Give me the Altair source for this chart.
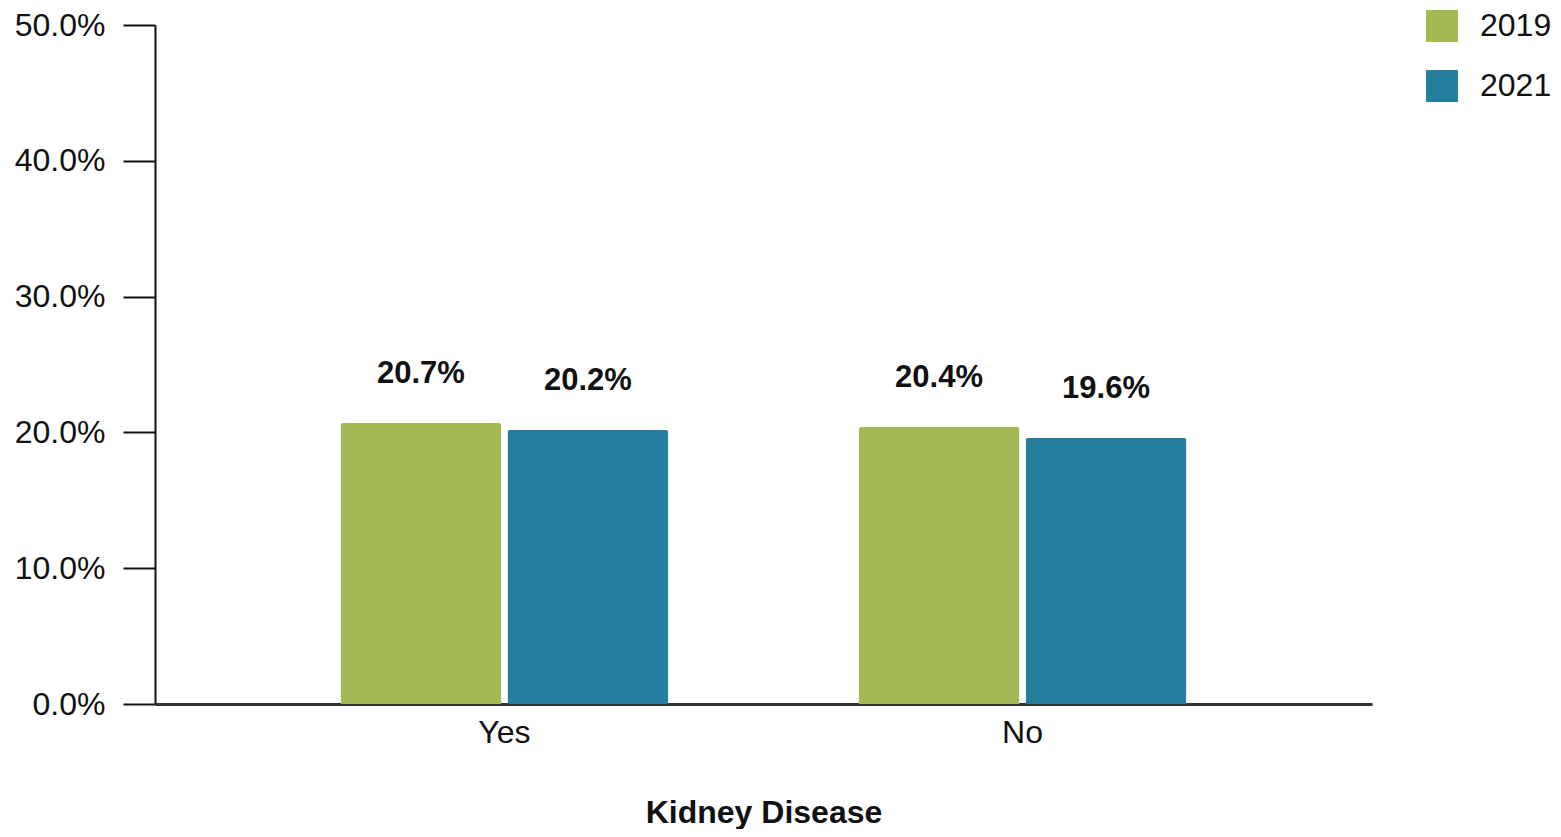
import altair as alt
import pandas as pd

categories = ["Yes", "No"]
years = ["2019", "2021"]
values_2019 = [0.207, 0.204]
values_2021 = [0.202, 0.196]
colors = ["#a3b953", "#247f9f"]

rows = []
for i, c in enumerate(categories):
    rows.append({"cat": c, "year": "2019", "value": values_2019[i]})
    rows.append({"cat": c, "year": "2021", "value": values_2021[i]})
df = pd.DataFrame(rows)

FONT = "Liberation Sans"

x = alt.X("cat:N", sort=categories,
          scale=alt.Scale(paddingInner=0.367, paddingOuter=0.358),
          axis=alt.Axis(title="Kidney Disease", labelAngle=0, ticks=False,
                        labelFontSize=32, labelPadding=13, labelColor="#111",
                        titleFontSize=32, titleFontWeight="bold", titlePadding=49,
                        titleColor="#111", domainColor="#333", domainWidth=3,
                        labelFont=FONT, titleFont=FONT))
xo = alt.XOffset("year:N", sort=years, scale=alt.Scale(paddingInner=0.036))
y = alt.Y("value:Q", scale=alt.Scale(domain=[0, 0.5]),
          axis=alt.Axis(title=None, format=".1%", values=[0, 0.1, 0.2, 0.3, 0.4, 0.5],
                        grid=False, tickSize=32, tickColor="#111", tickWidth=2,
                        domainColor="#111", domainWidth=2, labelFontSize=32,
                        labelPadding=18, labelColor="#111", labelFont=FONT))

bars = alt.Chart(df).mark_bar(cornerRadiusTopLeft=3, cornerRadiusTopRight=3).encode(
    x=x, xOffset=xo, y=y,
    color=alt.Color("year:N", sort=years,
                    scale=alt.Scale(domain=years, range=colors),
                    legend=alt.Legend(title=None, orient="none", legendX=1271, legendY=-15,
                                      symbolType="square", symbolSize=1024,
                                      symbolStrokeWidth=0, labelFontSize=32,
                                      labelFont=FONT, labelColor="#111",
                                      labelOffset=22, rowPadding=28, padding=0))
)

labels = alt.Chart(df).mark_text(font=FONT, fontSize=31, fontWeight="bold",
                                 baseline="alphabetic", dy=-40, color="#111").encode(
    x=x, xOffset=xo, y=y,
    text=alt.Text("value:Q", format=".1%")
)

chart = (bars + labels).properties(
    width=1217, height=679,
    autosize=alt.AutoSizeParams(type="none"),
    padding={"left": 147, "top": 17, "right": 181, "bottom": 125},
).configure_view(stroke=None)

chart.save("out.html", embed_options={"renderer": "svg", "actions": False})
